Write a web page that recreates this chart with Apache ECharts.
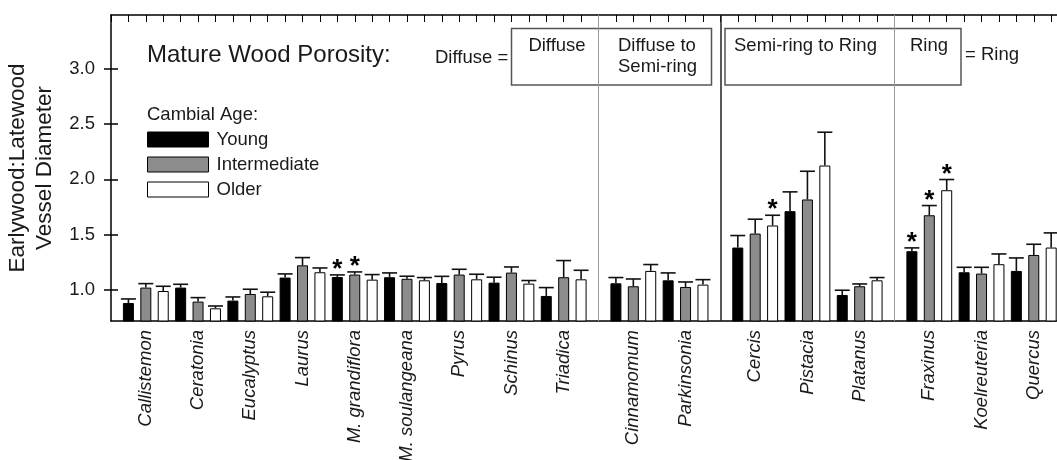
<!DOCTYPE html>
<html><head><meta charset="utf-8">
<script src="https://cdn.jsdelivr.net/npm/echarts@6/dist/echarts.min.js"></script>
<style>html,body{margin:0;padding:0;background:#fff}#c{width:1057px;height:460px}</style>
</head><body><div id="c"></div>
<script>
const FONT = '"Liberation Sans", Arial, Helvetica, sans-serif';

// ---------- data ----------
const species = ['Callistemon','Ceratonia','Eucalyptus','Laurus','M. grandiflora','M. soulangeana','Pyrus','Schinus','Triadica',
                 'Cinnamomum','Parkinsonia','Cercis','Pistacia','Platanus','Fraxinus','Koelreuteria','Quercus'];
const porosityClass = ['Diffuse','Diffuse','Diffuse','Diffuse','Diffuse','Diffuse','Diffuse','Diffuse','Diffuse',
                       'Diffuse to Semi-ring','Diffuse to Semi-ring','Semi-ring to Ring','Semi-ring to Ring','Semi-ring to Ring',
                       'Ring','Ring','Ring'];
const matureWood = ['Diffuse','Diffuse','Diffuse','Diffuse','Diffuse','Diffuse','Diffuse','Diffuse','Diffuse',
                    'Diffuse','Diffuse','Ring','Ring','Ring','Ring','Ring','Ring'];
const ageGroups = ['Young','Intermediate','Older'];
const youngMean = [0.878,1.018,0.900,1.109,1.114,1.112,1.060,1.063,0.942,1.057,1.084,1.381,1.711,0.951,1.348,1.157,1.169];
const youngSE   = [0.037,0.030,0.033,0.033,0.019,0.039,0.060,0.049,0.076,0.052,0.067,0.109,0.175,0.043,0.030,0.045,0.118];
const interMean = [1.018,0.891,0.960,1.220,1.136,1.098,1.136,1.154,1.112,1.030,1.024,1.508,1.817,1.030,1.674,1.145,1.314];
const interSE   = [0.036,0.036,0.043,0.070,0.024,0.023,0.048,0.051,0.151,0.066,0.045,0.130,0.256,0.021,0.088,0.057,0.097];
const olderMean = [0.987,0.830,0.939,1.157,1.090,1.084,1.093,1.054,1.093,1.169,1.045,1.581,2.125,1.084,1.901,1.230,1.381];
const olderSE   = [0.043,0.021,0.037,0.039,0.046,0.025,0.046,0.028,0.082,0.058,0.045,0.093,0.302,0.025,0.097,0.093,0.133];
const significant = { 'M. grandiflora': ['Young','Intermediate'], 'Cercis': ['Older'], 'Fraxinus': ['Young','Intermediate','Older'] };
const yTicks = [1.0, 1.5, 2.0, 2.5, 3.0];

// ---------- build slot axis ----------
const means = [youngMean, interMean, olderMean];
const ses = [youngSE, interSE, olderSE];
const slots = ['lead'];
const slotLabel = [''];
const gaps = [];
species.forEach((sp, i) => {
  if (i > 0 && porosityClass[i] !== porosityClass[i - 1]) {
    const g = 'gap' + i;
    gaps.push({ name: g, major: matureWood[i] !== matureWood[i - 1] });
    slots.push(g); slotLabel.push('');
  }
  ageGroups.forEach((a, k) => { slots.push(sp + '|' + a); slotLabel.push(k === 1 ? sp : ''); });
});
slots.push('trail1'); slotLabel.push('');
slots.push('trail2'); slotLabel.push('');

const barData = ageGroups.map(() => slots.map(() => '-'));
const errData = [];
species.forEach((sp, i) => {
  ageGroups.forEach((a, k) => {
    const idx = slots.indexOf(sp + '|' + a);
    barData[k][idx] = means[k][i];
    const sig = (significant[sp] || []).includes(a) ? 1 : 0;
    errData.push([idx, means[k][i], ses[k][i], sig]);
  });
});

const colors = ['#000000', '#8c8c8c', '#ffffff'];

const chart = echarts.init(document.getElementById('c'), null, { renderer: 'canvas' });
const option = {
  animation: false,
  backgroundColor: '#fff',
  textStyle: { fontFamily: FONT },
  grid: { left: 111, top: 15, width: 975, height: 306, containLabel: false, outerBoundsMode: 'none' },
  legend: {
    data: ageGroups, orient: 'vertical', left: 147, top: 130, padding: 0,
    itemWidth: 61, itemHeight: 15, itemGap: 6, icon: 'rect', selectedMode: false,
    itemStyle: { borderColor: '#000', borderWidth: 1 },
    textStyle: { fontFamily: FONT, fontSize: 18.5, color: '#1a1a1a', lineHeight: 15, padding: [0, 0, 0, 3] }
  },
  xAxis: [
    {
      type: 'category', data: slots, boundaryGap: false, position: 'bottom',
      axisLine: { show: true, lineStyle: { color: '#000', width: 1.5 } },
      axisTick: { show: false },
      axisLabel: {
        interval: 0, rotate: 90, margin: 9, fontSize: 18.5, fontStyle: 'italic', color: '#1a1a1a', fontFamily: FONT,
        formatter: (v, i) => slotLabel[i]
      },
      splitLine: { show: false }
    },
    {
      type: 'category', data: slots, boundaryGap: false, position: 'top',
      axisLine: { show: true, lineStyle: { color: '#000', width: 1.5 } },
      axisTick: { show: true, inside: true, interval: 0, length: 7, lineStyle: { color: '#000', width: 1 } },
      axisLabel: { show: false }, splitLine: { show: false }
    }
  ],
  yAxis: [
    {
      type: 'value', min: 0.715, max: 3.49, position: 'left',
      axisLine: { show: true, lineStyle: { color: '#000', width: 1.5 } },
      axisTick: { show: true, length: 7, customValues: yTicks, lineStyle: { color: '#000', width: 1.5 } },
      axisLabel: { customValues: yTicks, formatter: v => v.toFixed(1), fontSize: 18.5, margin: 16, color: '#1a1a1a', fontFamily: FONT },
      splitLine: { show: false },
      name: 'Earlywood:Latewood\nVessel Diameter', nameLocation: 'middle', nameRotate: 90, nameGap: 52,
      nameTextStyle: { fontSize: 22.5, lineHeight: 27, color: '#1a1a1a', fontFamily: FONT }
    },
    {
      type: 'value', min: 0.715, max: 3.49, position: 'left',
      axisLine: { show: false },
      axisTick: { show: true, inside: true, length: 7, customValues: yTicks, lineStyle: { color: '#000', width: 1.5 } },
      axisLabel: { show: false }, splitLine: { show: false }
    }
  ],
  series: [
    ...ageGroups.map((a, k) => ({
      name: a, type: 'bar', data: barData[k], barWidth: 11, barGap: '-100%',
      xAxisIndex: 0, yAxisIndex: 0,
      itemStyle: { color: colors[k], borderColor: '#000', borderWidth: 1 },
      markLine: k === 0 ? {
        silent: true, symbol: 'none', label: { show: false },
        data: gaps.map(g => ({ xAxis: g.name, lineStyle: { type: 'solid', color: g.major ? '#222' : '#9a9a9a', width: g.major ? 1.5 : 1 } }))
      } : undefined
    })),
    {
      type: 'custom', name: 'SE', xAxisIndex: 0, yAxisIndex: 0, data: errData, z: 5,
      encode: { x: 0, y: 1 },
      renderItem: (params, api) => {
        const x = api.value(0), m = api.value(1), e = api.value(2), s = api.value(3);
        const p0 = api.coord([x, m]);
        const p1 = api.coord([x, m + e]);
        const half = 7.5;
        const ch = [
          { type: 'line', shape: { x1: p0[0], y1: p0[1], x2: p1[0], y2: p1[1] }, style: { stroke: '#111', lineWidth: 1.6 } },
          { type: 'line', shape: { x1: p1[0] - half, y1: p1[1], x2: p1[0] + half, y2: p1[1] }, style: { stroke: '#111', lineWidth: 1.6 } }
        ];
        if (s) ch.push({ type: 'text', x: p1[0], y: p1[1] - 5,
          style: { text: '*', fontSize: 26, fontWeight: 'bold', fill: '#000', align: 'center', verticalAlign: 'middle', fontFamily: FONT } });
        return { type: 'group', children: ch };
      }
    }
  ],
  graphic: [
    { type: 'text', x: 147, y: 55, style: { text: 'Mature Wood Porosity:', fontSize: 24, fill: '#1a1a1a', fontFamily: FONT, align: 'left', verticalAlign: 'middle' } },
    { type: 'text', x: 147, y: 115, style: { text: 'Cambial Age:', fontSize: 18.5, fill: '#1a1a1a', fontFamily: FONT, align: 'left', verticalAlign: 'middle' } },
    { type: 'text', x: 435, y: 58, style: { text: 'Diffuse =', fontSize: 18.5, fill: '#1a1a1a', fontFamily: FONT, align: 'left', verticalAlign: 'middle' } },
    { type: 'rect', shape: { x: 511.5, y: 28.5, width: 200, height: 56.5 }, style: { fill: 'none', stroke: '#555', lineWidth: 1.5 } },
    { type: 'text', x: 557, y: 46, style: { text: 'Diffuse', fontSize: 18.5, fill: '#1a1a1a', fontFamily: FONT, align: 'center', verticalAlign: 'middle' } },
    { type: 'text', x: 618, y: 56.5, style: { text: 'Diffuse to\nSemi-ring', fontSize: 18.5, lineHeight: 21, fill: '#1a1a1a', fontFamily: FONT, align: 'left', verticalAlign: 'middle' } },
    { type: 'rect', shape: { x: 725, y: 28.5, width: 236, height: 56.5 }, style: { fill: 'none', stroke: '#555', lineWidth: 1.5 } },
    { type: 'text', x: 734, y: 46, style: { text: 'Semi-ring to Ring', fontSize: 18.5, fill: '#1a1a1a', fontFamily: FONT, align: 'left', verticalAlign: 'middle' } },
    { type: 'text', x: 910, y: 46, style: { text: 'Ring', fontSize: 18.5, fill: '#1a1a1a', fontFamily: FONT, align: 'left', verticalAlign: 'middle' } },
    { type: 'text', x: 965, y: 55, style: { text: '= Ring', fontSize: 18.5, fill: '#1a1a1a', fontFamily: FONT, align: 'left', verticalAlign: 'middle' } }
  ]
};
chart.setOption(option);
</script>
</body></html>
